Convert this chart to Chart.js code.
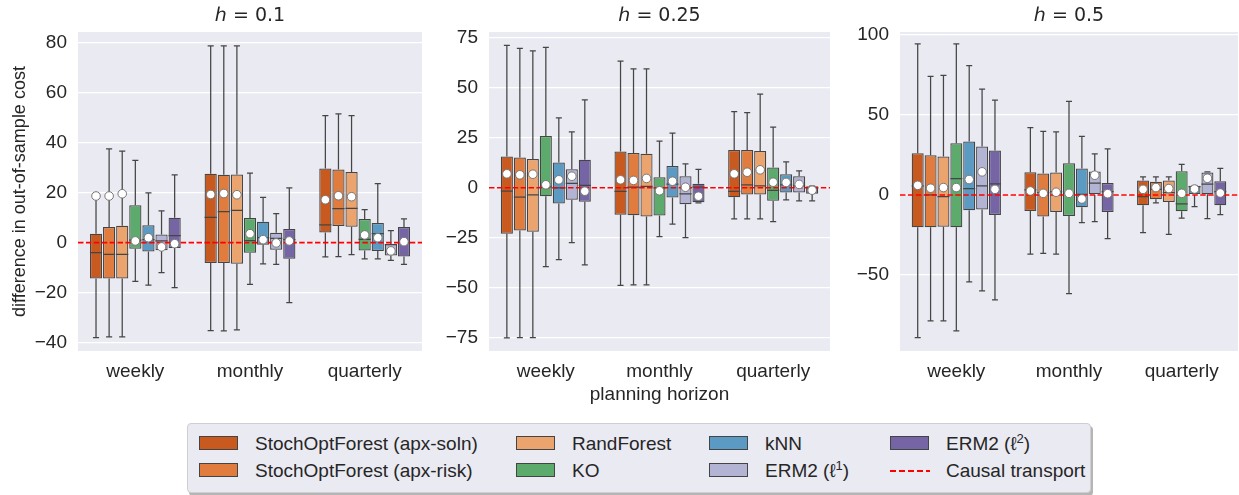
<!DOCTYPE html>
<html>
<head>
<meta charset="utf-8">
<script src="https://cdn.jsdelivr.net/npm/chart.js@4.4.0/dist/chart.umd.min.js"></script>
<style>
  body { margin: 0; background: #fff; width: 1239px; height: 495px; position: relative; overflow: hidden;
         font-family: "Liberation Sans", Arial, sans-serif; color: #262626; }
  .panel { position: absolute; top: 0; height: 410px; }
  #legend { position: absolute; left: 187px; top: 423px; width: 902px; height: 68px; background: #EAEAF2;
            border: 1px solid #cfcfcf; border-radius: 4px; box-shadow: 2px 3px 0 #b5b5b5; }
  .item { position: absolute; font-size: 19px; line-height: 22px; white-space: nowrap; }
  .item sup { font-size: 13px; line-height: 0; vertical-align: 7px; }
  .sw { position: absolute; width: 37px; height: 12px; border: 1.5px solid #444; top: 3px; left: 0; }
  .dash { position: absolute; width: 40px; height: 2px; top: 10px; left: 0;
          background: repeating-linear-gradient(90deg, #ff0000 0 6px, transparent 6px 9px); }
  .lbl { position: absolute; left: 56px; top: 0; }
</style>
</head>
<body>
<div class="panel" style="left:0;width:424px"><canvas id="c1"></canvas></div>
<div class="panel" style="left:424px;width:408px"><canvas id="c2"></canvas></div>
<div class="panel" style="left:832px;width:407px"><canvas id="c3"></canvas></div>
<div id="legend"></div>
<script>
const horizons = ['weekly', 'monthly', 'quarterly'];
const seriesNames = ['StochOptForest (apx-soln)', 'StochOptForest (apx-risk)', 'RandForest', 'KO', 'kNN', 'ERM2 (ℓ¹)', 'ERM2 (ℓ²)'];
const seriesColors = ['#C8591F', '#E07C3E', '#EBA46E', '#5DAA6D', '#5B9AC2', '#B3B3D4', '#7665A5'];
const causalLabel = 'Causal transport';
const causalTransport = 0;

// each box: [low whisker, q1, median, q3, high whisker, mean] for weekly, monthly, quarterly
const statsH01 = [
  [[-38, -14.4, -4, 3.6, 20, 18.7], [-35.2, -8.1, 10.1, 27.6, 78.8, 19.3], [-5.7, 4.1, 7.1, 29.7, 50.9, 17.2]],
  [[-37.7, -14.4, -4.7, 6.3, 37.6, 18.7], [-35.3, -8.1, 12.4, 27.2, 78.8, 19.7], [-5.6, 6.7, 13.6, 29.3, 51.6, 18.8]],
  [[-37.7, -14.4, -4.7, 6.8, 36.7, 19.6], [-34.9, -8.4, 12.9, 27.3, 78.8, 19.2], [-4.8, 6.4, 13.7, 28.3, 50.9, 18.4]],
  [[-15.5, -2.4, 1.0, 15, 33, 0.7], [-16.7, -4, 0.8, 9.9, 27.9, 3.6], [-6.5, -3.1, 1.3, 9.5, 13.2, 3.1]],
  [[-17, -3.5, 1.2, 7, 19.9, 2], [-8.5, -0.8, 2, 8.4, 18.1, 1.2], [-6.5, -3.3, 3.6, 7.9, 23.7, 2]],
  [[-12, -3, 0.7, 3.3, 12.7, -1.7], [-8.7, -2.8, 1.7, 4, 11.6, -0.1], [-7.1, -5.1, -0.8, -0.5, 4.8, -3.3]],
  [[-18, -2.1, 2.8, 10, 27.2, -0.4], [-24, -6.4, 1.2, 5.5, 22, 0.7], [-8.7, -5.5, 0, 6.3, 9.5, 0.4]]
];
const statsH025 = [
  [[-75.1, -23, -1.7, 15.7, 71.3, 7], [-48.9, -13.5, -1.8, 18.2, 63.4, 4], [-15.5, -4.7, -1.8, 18.9, 38.2, 7]],
  [[-75, -21.4, -4.7, 15.2, 69.8, 6.5], [-48.6, -13.7, 0.3, 17.4, 59.6, 3.7], [-15.5, -3.3, 1.5, 18.9, 37.6, 7.8]],
  [[-75, -22, -3.5, 14.4, 68.6, 6.8], [-48.6, -14.4, 0.7, 17, 59.6, 4.7], [-15.5, -3.3, 1, 18.4, 46.9, 9]],
  [[-39.4, -4.2, 0.5, 25.9, 70.3, 1.5], [-24.4, -13.9, 0, 5.3, 23.4, -1.5], [-16.9, -6.5, -1.3, 10.2, 30.4, 2.8]],
  [[-35.9, -7.8, 0, 12.7, 35, 4], [-18.2, -4.8, 1.8, 10.9, 27.4, 3.3], [-6, -2.3, 1.5, 6.8, 13, 2.7]],
  [[-27.4, -6, 2.2, 9.3, 28, 5.8], [-25, -8.2, -3, 5.8, 12, 0.3], [-6.5, -2.3, 1, 5.8, 8.5, 1.7]],
  [[-38.6, -7, 1.2, 14, 44, -1.7], [-7.5, -7.2, 0.3, 2, 9.2, -4.2], [-6.5, -3, 0, 0.8, 0.8, -1.2]]
];
const statsH05 = [
  [[-89, -20.2, 5.6, 26, 94.2, 6], [-36.9, -10, 3.1, 14.2, 42, 2.5], [-23.5, -6.5, -1, 9, 11.3, 3.5]],
  [[-78.5, -20.2, 0, 24.8, 74, 4.2], [-36.5, -13.5, 1.5, 13.3, 39.6, 1], [-5, -2.7, 3.5, 8.3, 11.3, 4.6]],
  [[-78.5, -19.8, -1, 24, 74.6, 4.6], [-36.9, -10.6, 2.1, 14, 39.4, 1.7], [-24.6, -4.4, 1.5, 9, 11.3, 4]],
  [[-84.8, -20.2, 10.2, 32.3, 94.2, 4.6], [-61.5, -13.1, 1, 19.8, 58.3, 1], [-14.4, -10.2, -5.6, 14.8, 19, 1]],
  [[-54.2, -9.6, 4, 33.3, 80.6, 9.6], [-17.3, -7.7, 0.4, 16.5, 36.5, -2.5], [-7.3, 0, 5.2, 5.8, 5.8, 3.7]],
  [[-59.8, -9, 5.6, 30.2, 66, 14.4], [-16.7, 0, 7.3, 14.6, 25.6, 12.3], [-14.8, 0.4, 6.7, 14, 14.4, 10.4]],
  [[-65.4, -12.5, 6.9, 27.7, 59.2, 3.5], [-27.3, -10.6, 2.1, 7.5, 28.7, 0.8], [-12.3, -6.5, 2.1, 8.5, 16.5, 1.2]]
];

const ticksH01 = [-40, -20, 0, 20, 40, 60, 80];
const ticksH025 = [-75, -50, -25, 0, 25, 50, 75];
const ticksH05 = [-50, 0, 50, 100];

const edgeColor = '#454545';
const textColor = '#262626';

// panel background, whiskers, medians, reference line, means and the panel title
const boxExtras = {
  id: 'boxExtras',
  beforeDraw(chart) {
    const { ctx, chartArea: a } = chart;
    ctx.save();
    ctx.fillStyle = '#EAEAF2';
    ctx.fillRect(a.left, a.top, a.width, a.height);
    ctx.restore();
  },
  afterDatasetsDraw(chart, args, opts) {
    const { ctx, chartArea: a } = chart;
    const y = chart.scales.y;
    ctx.save();
    ctx.strokeStyle = edgeColor;
    ctx.lineWidth = 1.25;
    chart.data.datasets.forEach((ds, i) => {
      chart.getDatasetMeta(i).data.forEach((bar, j) => {
        const [lo, q1, med, q3, hi] = ds.stats[j];
        const half = bar.width / 2, cap = bar.width / 4;
        const pLo = y.getPixelForValue(lo), pQ1 = y.getPixelForValue(q1);
        const pMed = y.getPixelForValue(med), pQ3 = y.getPixelForValue(q3), pHi = y.getPixelForValue(hi);
        ctx.beginPath();
        ctx.moveTo(bar.x, pQ3); ctx.lineTo(bar.x, pHi);
        ctx.moveTo(bar.x - cap, pHi); ctx.lineTo(bar.x + cap, pHi);
        ctx.moveTo(bar.x, pQ1); ctx.lineTo(bar.x, pLo);
        ctx.moveTo(bar.x - cap, pLo); ctx.lineTo(bar.x + cap, pLo);
        ctx.moveTo(bar.x - half, pMed); ctx.lineTo(bar.x + half, pMed);
        ctx.stroke();
      });
    });
    const y0 = y.getPixelForValue(causalTransport);
    ctx.strokeStyle = '#ff0000';
    ctx.lineWidth = 1.6;
    ctx.setLineDash([5.5, 2.4]);
    ctx.beginPath();
    ctx.moveTo(a.left, y0); ctx.lineTo(a.right, y0);
    ctx.stroke();
    ctx.setLineDash([]);
    ctx.fillStyle = '#ffffff';
    ctx.strokeStyle = '#777';
    ctx.lineWidth = 1;
    chart.data.datasets.forEach((ds, i) => {
      chart.getDatasetMeta(i).data.forEach((bar, j) => {
        ctx.beginPath();
        ctx.arc(bar.x, y.getPixelForValue(ds.stats[j][5]), 4.3, 0, Math.PI * 2);
        ctx.fill();
        ctx.stroke();
      });
    });
    // title centred over the plotting area, as in the original figure
    ctx.fillStyle = textColor;
    ctx.font = '19px "DejaVu Sans"';
    ctx.textAlign = 'center';
    ctx.textBaseline = 'middle';
    ctx.fillText(opts.title, (a.left + a.right) / 2, 16);
    ctx.restore();
  }
};

function makePanel(id, titleText, stats, yMin, yMax, tickVals, yWidth, padRight, showYTitle, showXTitle) {
  const datasets = seriesNames.map((name, i) => ({
    label: name,
    data: stats[i].map(s => [s[1], s[3]]),
    stats: stats[i],
    backgroundColor: seriesColors[i],
    borderColor: edgeColor,
    borderWidth: 1.25,
    borderSkipped: false,
    barPercentage: 0.93,
    categoryPercentage: 0.8
  }));
  return new Chart(document.getElementById(id), {
    type: 'bar',
    data: { labels: horizons, datasets: datasets },
    options: {
      responsive: true,
      maintainAspectRatio: false,
      animation: false,
      layout: { padding: { left: 0, right: padRight, top: 32, bottom: 0 } },
      plugins: {
        legend: { display: false },
        tooltip: { enabled: false },
        title: { display: false },
        boxExtras: { title: titleText }
      },
      scales: {
        x: {
          grid: { display: false },
          border: { display: false },
          ticks: { color: textColor, padding: 1.5, font: { family: 'Liberation Sans', size: 19 } },
          title: {
            display: showXTitle,
            text: 'planning horizon',
            color: textColor,
            padding: { top: 0, bottom: 3.5 },
            font: { family: 'Liberation Sans', size: 19 }
          },
          afterFit(scale) { scale.height = 59; }
        },
        y: {
          min: yMin,
          max: yMax,
          grid: { color: '#ffffff', lineWidth: 1.3, drawTicks: false },
          border: { display: false },
          afterBuildTicks(scale) { scale.ticks = tickVals.map(v => ({ value: v })); },
          ticks: {
            color: textColor,
            padding: 11,
            font: { family: 'Liberation Sans', size: 19 },
            callback: v => (v < 0 ? '\u2212' + Math.abs(v) : String(v))
          },
          title: {
            display: showYTitle,
            text: 'difference in out-of-sample cost',
            color: textColor,
            padding: { top: 9 },
            font: { family: 'Liberation Sans', size: 18 }
          },
          afterFit(scale) { scale.width = yWidth; }
        }
      }
    },
    plugins: [boxExtras]
  });
}

makePanel('c1', 'ℎ = 0.1', statsH01, -43.4, 84.4, ticksH01, 78, 2, true, false);
makePanel('c2', 'ℎ = 0.25', statsH025, -81.7, 78, ticksH025, 65, 2, false, true);
makePanel('c3', 'ℎ = 0.5', statsH05, -97.3, 101.6, ticksH05, 68, 1, false, false);

// legend laid out column by column, 2 rows
const legendCols = [11, 328, 521, 702];
const legendRows = [9, 36];
const legend = document.getElementById('legend');
const entries = seriesNames.map((n, i) => ({ name: n, color: seriesColors[i] }));
entries.push({ name: causalLabel, color: null });
entries.forEach((e, k) => {
  const col = Math.floor(k / 2), row = k % 2;
  const item = document.createElement('div');
  item.className = 'item';
  item.style.left = legendCols[col] + 'px';
  item.style.top = legendRows[row] + 'px';
  const mark = document.createElement('div');
  if (e.color) { mark.className = 'sw'; mark.style.background = e.color; }
  else { mark.className = 'dash'; }
  const lbl = document.createElement('span');
  lbl.className = 'lbl';
  lbl.innerHTML = e.name.replace('¹', '<sup>1</sup>').replace('²', '<sup>2</sup>');
  item.appendChild(mark);
  item.appendChild(lbl);
  legend.appendChild(item);
});
</script>
</body>
</html>
